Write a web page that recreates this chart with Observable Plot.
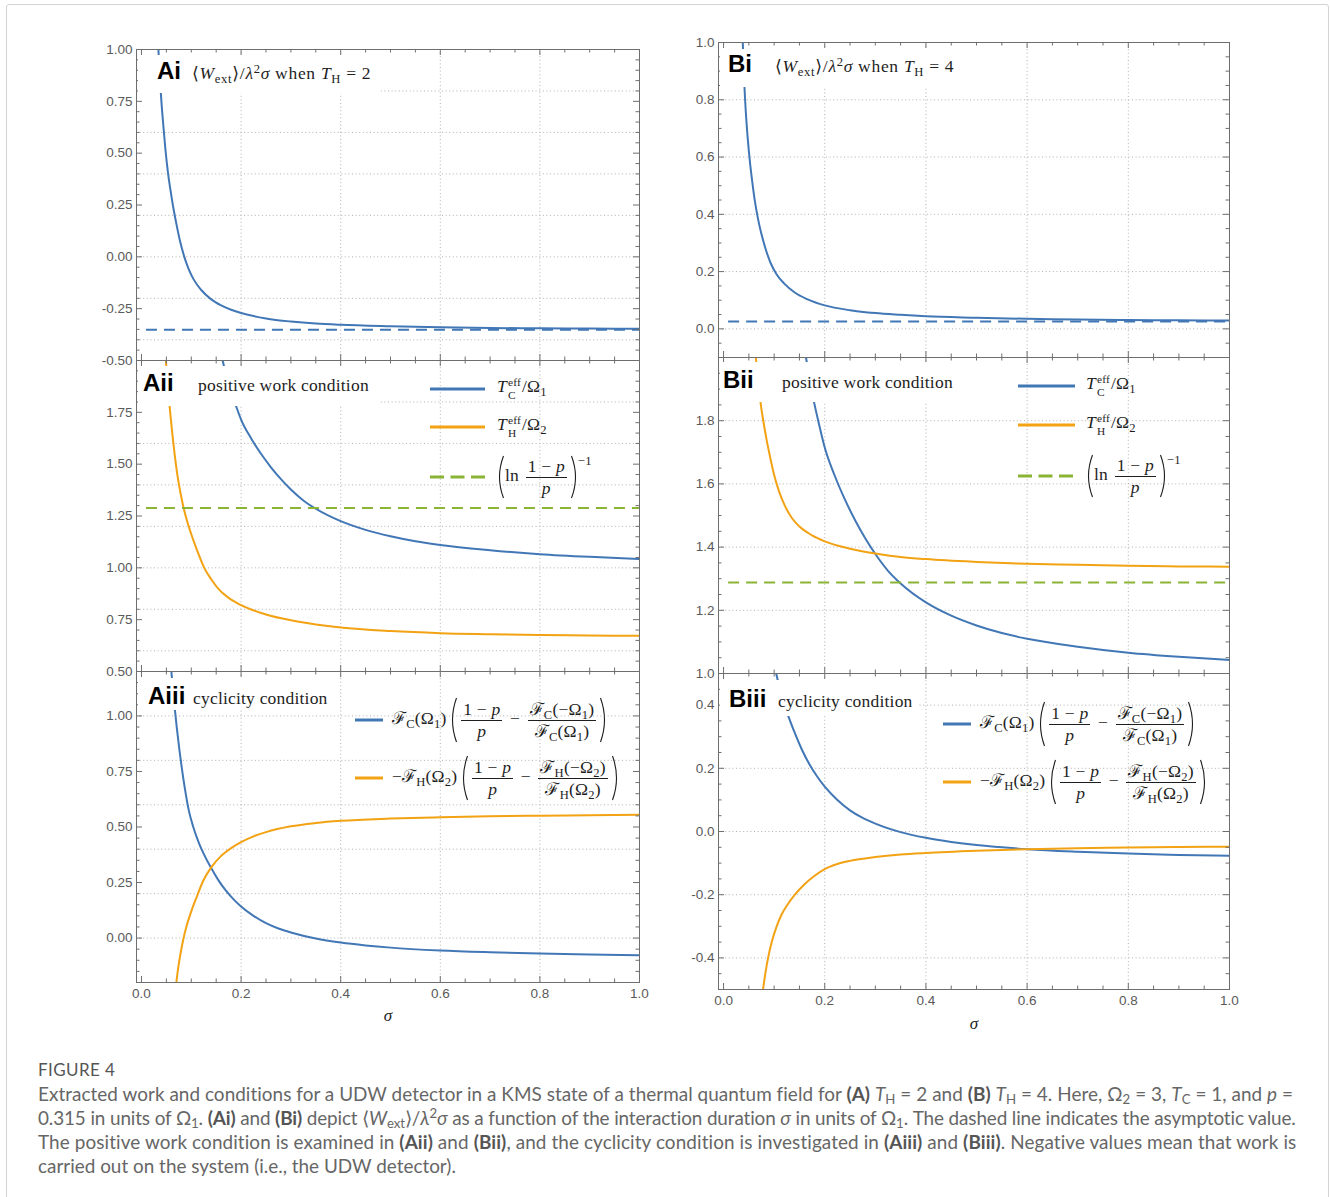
<!DOCTYPE html>
<html>
<head>
<meta charset="utf-8">
<script src="https://cdn.jsdelivr.net/npm/d3@7"></script>
<script src="https://cdn.jsdelivr.net/npm/@observablehq/plot@0.6"></script>
<style>
  html,body{margin:0;padding:0;background:#fff;}
  #fig{position:relative;width:1330px;height:1197px;overflow:hidden;background:#fff;}
  #border{position:absolute;left:6px;top:4px;width:1323px;height:1230px;border:1px solid #d4d4d4;border-radius:3px;box-sizing:border-box;}
  .m{font-family:"Liberation Serif","DejaVu Serif",serif;font-size:17.5px;letter-spacing:0.2px;color:#1e1e1e;white-space:nowrap;}
  .m sub{font-size:0.72em;vertical-align:-0.32em;line-height:0;}
  .m sup{font-size:0.72em;vertical-align:0.5em;line-height:0;}
  .ss{display:inline-flex;flex-direction:column;font-size:0.65em;line-height:1.15;vertical-align:0.57em;margin-left:1px;margin-right:1px;}
  .ss>span{display:block;height:1.15em;}
  .fr{display:inline-flex;flex-direction:column;align-items:center;vertical-align:middle;margin:0 3px;}
  .fr>span{display:block;line-height:1.15;padding:0 2px;text-align:center;}
  .fr>.n{border-bottom:1px solid #1e1e1e;}
  .bp{vertical-align:middle;display:inline-block;}
  .lblbox{position:absolute;background:#fff;}
  .lblrow{position:absolute;display:flex;align-items:baseline;height:28px;line-height:28px;white-space:nowrap;}
  .tag{display:inline-block;font-family:"Liberation Sans",Arial,sans-serif;font-weight:bold;font-size:24px;color:#000;}
  .leg{position:absolute;display:flex;align-items:center;transform:translateY(-50%);white-space:nowrap;}
  #cap{position:absolute;left:38px;top:1058px;font-family:Lato,"Open Sans",sans-serif;color:#666;}
  #cap .h{font-size:17px;line-height:24px;color:#555;letter-spacing:0.4px;}
  #cap .l{font-size:16px;line-height:24px;white-space:nowrap;}
  #cap b{font-weight:bold;color:#555;}
  #cap sub{font-size:0.7em;vertical-align:-0.25em;line-height:0;}
  #cap sup{font-size:0.7em;vertical-align:0.5em;line-height:0;}
</style>
</head>
<body>
<div id="fig"><div id="border"></div></div>
<script>
// ---------------- DATA ----------------
const sigmaRange = [0.01, 1];

// Ai: <W_ext>/λ²σ, T_H = 2
const wextTH2 = [[0.031,1.12],[0.034,1.0],[0.037,0.86],[0.040,0.75],[0.044,0.63],[0.048,0.52],[0.053,0.41],[0.058,0.325],[0.063,0.25],[0.07,0.16],[0.077,0.08],[0.086,0.0],[0.095,-0.06],[0.105,-0.11],[0.12,-0.16],[0.14,-0.205],[0.16,-0.234],[0.18,-0.255],[0.2,-0.271],[0.25,-0.297],[0.3,-0.312],[0.35,-0.322],[0.4,-0.328],[0.5,-0.335],[0.6,-0.34],[0.7,-0.343],[0.8,-0.345],[0.9,-0.346],[1.0,-0.347]];
const wextTH2Asym = -0.352;

// Bi: <W_ext>/λ²σ, T_H = 4
const wextTH4 = [[0.036,1.11],[0.038,1.0],[0.040,0.9],[0.042,0.82],[0.045,0.73],[0.048,0.66],[0.052,0.585],[0.057,0.51],[0.062,0.445],[0.068,0.385],[0.075,0.33],[0.083,0.28],[0.093,0.23],[0.105,0.19],[0.12,0.158],[0.14,0.128],[0.165,0.104],[0.2,0.082],[0.25,0.065],[0.3,0.055],[0.35,0.049],[0.4,0.044],[0.5,0.039],[0.6,0.035],[0.7,0.033],[0.8,0.031],[0.9,0.030],[1.0,0.029]];
const wextTH4Asym = 0.026;

// Aii / Bii: T_C^eff / Ω1 (same in both columns, T_C = 1)
const tcEff = [[0.158,2.06],[0.163,2.0],[0.17,1.93],[0.18,1.85],[0.19,1.78],[0.2,1.715],[0.22,1.625],[0.24,1.55],[0.26,1.485],[0.28,1.428],[0.3,1.378],[0.325,1.325],[0.35,1.285],[0.4,1.225],[0.45,1.183],[0.5,1.152],[0.55,1.128],[0.6,1.11],[0.7,1.085],[0.8,1.066],[0.9,1.053],[1.0,1.043]];
// Aii: T_H^eff / Ω2, T_H = 2
const thEffTH2 = [[0.047,2.07],[0.049,2.0],[0.052,1.905],[0.055,1.82],[0.058,1.74],[0.062,1.645],[0.0665,1.55],[0.072,1.45],[0.078,1.365],[0.084,1.295],[0.092,1.222],[0.1,1.162],[0.11,1.095],[0.126,1.0],[0.14,0.945],[0.154,0.9],[0.175,0.855],[0.2,0.82],[0.25,0.775],[0.3,0.747],[0.35,0.727],[0.4,0.712],[0.5,0.695],[0.6,0.685],[0.7,0.68],[0.8,0.676],[0.9,0.674],[1.0,0.672]];
// Bii: T_H^eff / Ω2, T_H = 4
const thEffTH4 = [[0.062,2.05],[0.064,2.0],[0.067,1.945],[0.071,1.885],[0.075,1.835],[0.079,1.795],[0.085,1.74],[0.092,1.685],[0.1,1.628],[0.11,1.575],[0.12,1.535],[0.135,1.492],[0.15,1.465],[0.175,1.437],[0.2,1.418],[0.25,1.395],[0.3,1.38],[0.35,1.369],[0.4,1.362],[0.5,1.353],[0.6,1.347],[0.7,1.344],[0.8,1.341],[0.9,1.339],[1.0,1.338]];
// (ln((1-p)/p))^-1, p = 0.315
const lnThreshold = 1.288;

// Aiii / Biii: cyclicity, cold term (same in both columns)
const cycC = [[0.058,1.25],[0.06,1.2],[0.063,1.125],[0.067,1.03],[0.071,0.945],[0.076,0.85],[0.081,0.765],[0.087,0.675],[0.095,0.575],[0.104,0.5],[0.115,0.43],[0.127,0.37],[0.14,0.315],[0.154,0.262],[0.17,0.212],[0.185,0.174],[0.2,0.142],[0.225,0.1],[0.25,0.067],[0.275,0.043],[0.3,0.025],[0.35,-0.002],[0.4,-0.02],[0.45,-0.033],[0.5,-0.043],[0.6,-0.056],[0.7,-0.064],[0.8,-0.07],[0.9,-0.074],[1.0,-0.077]];
// Aiii: cyclicity, hot term, T_H = 2
const cycHTH2 = [[0.068,-0.24],[0.07,-0.2],[0.074,-0.13],[0.078,-0.075],[0.084,-0.005],[0.09,0.05],[0.1,0.12],[0.11,0.18],[0.124,0.258],[0.14,0.318],[0.16,0.37],[0.18,0.405],[0.2,0.432],[0.225,0.458],[0.25,0.477],[0.3,0.503],[0.35,0.518],[0.4,0.528],[0.5,0.538],[0.6,0.544],[0.7,0.548],[0.8,0.551],[0.9,0.553],[1.0,0.555]];
// Biii: cyclicity, hot term, T_H = 4
const cycHTH4 = [[0.076,-0.525],[0.078,-0.5],[0.083,-0.445],[0.088,-0.4],[0.096,-0.345],[0.105,-0.3],[0.115,-0.262],[0.127,-0.23],[0.141,-0.2],[0.16,-0.167],[0.18,-0.14],[0.2,-0.119],[0.225,-0.103],[0.25,-0.093],[0.3,-0.081],[0.35,-0.073],[0.4,-0.068],[0.5,-0.061],[0.6,-0.056],[0.7,-0.053],[0.8,-0.051],[0.9,-0.049],[1.0,-0.048]];

// Ticks / grid
const xMajor = [0, 0.2, 0.4, 0.6, 0.8, 1.0];
const xGrid = [0.2, 0.4, 0.6, 0.8];
const yMajorAi = [-0.5, -0.25, 0, 0.25, 0.5, 0.75, 1.0];
const yGridAi = [-0.4, -0.2, 0, 0.2, 0.4, 0.6, 0.8];
const yMajorAii = [0.5, 0.75, 1.0, 1.25, 1.5, 1.75];
const yGridAii = [0.6, 0.8, 1.0, 1.2, 1.4, 1.6, 1.8];
const yMajorAiii = [0, 0.25, 0.5, 0.75, 1.0];
const yGridAiii = [0, 0.2, 0.4, 0.6, 0.8, 1.0];
const yMajorBi = [0, 0.2, 0.4, 0.6, 0.8, 1.0];
const yGridBi = [0, 0.2, 0.4, 0.6, 0.8];
const yMajorBii = [1.0, 1.2, 1.4, 1.6, 1.8];
const yGridBii = [1.2, 1.4, 1.6, 1.8];
const yMajorBiii = [-0.4, -0.2, 0, 0.2, 0.4];
const yGridBiii = [-0.4, -0.2, 0, 0.2, 0.4];

// ---------------- STYLE ----------------
const blue = "#4277b6", orange = "#f2a213", green = "#8ab434";
const gridColor = "#b0b0b0", frameColor = "#6e6e6e", labelColor = "#5a5a5a";

function minorTicks(lo, hi, majors) {
  const out = [];
  for (let k = Math.ceil(lo / 0.05 - 1e-9); k <= Math.floor(hi / 0.05 + 1e-9); k++) {
    const v = +(k * 0.05).toFixed(2);
    if (!majors.some(m => Math.abs(m - v) < 1e-9)) out.push(v);
  }
  return out;
}
const xMinor = minorTicks(0, 1, xMajor);

const fig = document.getElementById("fig");

function addPanel(p) {
  const ml = 50, mr = 10, mt = 10, mb = p.xAxis ? 55 : 10;
  const w = p.w, h = p.h, majL = 6, minL = 3.5;
  const yMinor = minorTicks(p.yDomain[0], p.yDomain[1], p.yMajor);
  const marks = [
    Plot.ruleX(xGrid, {x: d => d, stroke: gridColor, strokeDasharray: "1,2.6"}),
    Plot.ruleY(p.yGrid, {y: d => d, stroke: gridColor, strokeDasharray: "1,2.6"}),
    ...p.series.map(s => Plot.line(s.data, {x: d => d[0], y: d => d[1], stroke: s.color, strokeWidth: 2, curve: "monotone-x", clip: true})),
    ...p.dashed.map(dl => Plot.ruleY([dl.value], {y: d => d, x1: () => sigmaRange[0], x2: () => sigmaRange[1], stroke: dl.color, strokeWidth: 2, strokeDasharray: "11,7", clip: true})),
    Plot.frame({stroke: frameColor}),
    Plot.tickY(p.yMajor, {y: d => d, insetRight: w - majL, stroke: frameColor}),
    Plot.tickY(p.yMajor, {y: d => d, insetLeft: w - majL, stroke: frameColor}),
    Plot.tickY(yMinor, {y: d => d, insetRight: w - minL, stroke: frameColor}),
    Plot.tickY(yMinor, {y: d => d, insetLeft: w - minL, stroke: frameColor}),
    Plot.tickX(xMajor, {x: d => d, insetTop: h - majL, stroke: frameColor}),
    Plot.tickX(xMajor, {x: d => d, insetBottom: h - majL, stroke: frameColor}),
    Plot.tickX(xMinor, {x: d => d, insetTop: h - minL, stroke: frameColor}),
    Plot.tickX(xMinor, {x: d => d, insetBottom: h - minL, stroke: frameColor}),
    Plot.axisY(p.yMajor, {tickSize: 0, tickPadding: 4, tickFormat: d => d.toFixed(p.digits), fontSize: 13.5, color: labelColor, label: null})
  ];
  if (p.xAxis) {
    marks.push(Plot.axisX(xMajor, {tickSize: 0, tickPadding: 6, tickFormat: d => d.toFixed(1), fontSize: 13.5, color: labelColor, label: null}));
    marks.push(Plot.text(["σ"], {text: d => d, frameAnchor: "bottom", dy: p.sigmaDy, fontSize: 17, fontStyle: "italic", fontFamily: "Liberation Serif, serif", fill: "#222"}));
  }
  const svg = Plot.plot({
    width: ml + w + mr, height: mt + h + mb,
    marginLeft: ml, marginRight: mr, marginTop: mt, marginBottom: mb,
    x: {domain: [-0.01, 1], axis: null},
    y: {domain: p.yDomain, axis: null},
    style: {background: "transparent", overflow: "visible", fontFamily: '"Liberation Sans", Arial, sans-serif'},
    marks
  });
  const wrap = document.createElement("div");
  wrap.style.cssText = `position:absolute;left:${p.left - ml}px;top:${p.top - mt}px;width:${ml + w + mr}px;height:${mt + h + mb}px;`;
  wrap.appendChild(svg);
  fig.appendChild(wrap);
}

const L = {left: 136, w: 503}, R = {left: 718, w: 511};
const panels = [
  {...L, top: 49, h: 311, yDomain: [-0.5, 1.0], yMajor: yMajorAi, yGrid: yGridAi, digits: 2,
   series: [{data: wextTH2, color: blue}], dashed: [{value: wextTH2Asym, color: blue}]},
  {...L, top: 360, h: 311, yDomain: [0.5, 2.0], yMajor: yMajorAii, yGrid: yGridAii, digits: 2,
   series: [{data: tcEff, color: blue}, {data: thEffTH2, color: orange}], dashed: [{value: lnThreshold, color: green}]},
  {...L, top: 671, h: 311, yDomain: [-0.2, 1.2], yMajor: yMajorAiii, yGrid: yGridAiii, digits: 2, xAxis: true, sigmaDy: 38,
   series: [{data: cycC, color: blue}, {data: cycHTH2, color: orange}], dashed: []},
  {...R, top: 42, h: 315, yDomain: [-0.1, 1.0], yMajor: yMajorBi, yGrid: yGridBi, digits: 1,
   series: [{data: wextTH4, color: blue}], dashed: [{value: wextTH4Asym, color: blue}]},
  {...R, top: 357, h: 316, yDomain: [1.0, 2.0], yMajor: yMajorBii, yGrid: yGridBii, digits: 1,
   series: [{data: tcEff, color: blue}, {data: thEffTH4, color: orange}], dashed: [{value: lnThreshold, color: green}]},
  {...R, top: 673, h: 316, yDomain: [-0.5, 0.5], yMajor: yMajorBiii, yGrid: yGridBiii, digits: 1, xAxis: true, sigmaDy: 39,
   series: [{data: cycC, color: blue}, {data: cycHTH4, color: orange}], dashed: []}
];
panels.forEach(addPanel);

// ---------------- MATH TEXT HELPERS ----------------
const I = s => `<i>${s}</i>`;
const frac = (n, d) => `<span class="fr"><span class="n">${n}</span><span class="d">${d}</span></span>`;
const LP = (h = 46) => `<svg class="bp" width="8" height="${h}" viewBox="0 0 8 ${h}"><path d="M6.5,1 Q-1.5,${h / 2} 6.5,${h - 1}" fill="none" stroke="#1e1e1e" stroke-width="1.1"/></svg>`;
const RP = (h = 46) => `<svg class="bp" width="8" height="${h}" viewBox="0 0 8 ${h}"><path d="M1.5,1 Q9.5,${h / 2} 1.5,${h - 1}" fill="none" stroke="#1e1e1e" stroke-width="1.1"/></svg>`;
const F = "ℱ";
const wextHtml = t => `⟨${I("W")}<sub>ext</sub>⟩/${I("λ")}<sup>2</sup>${I("σ")} when ${I("T")}<sub>H</sub> = ${t}`;
const tcHtml = `${I("T")}<span class="ss"><span>eff</span><span>C</span></span>/Ω<sub>1</sub>`;
const thHtml = `${I("T")}<span class="ss"><span>eff</span><span>H</span></span>/Ω<sub>2</sub>`;
const lnHtml = `${LP(44)}ln&thinsp;${frac(`1 − ${I("p")}`, I("p"))}${RP(44)}<sup style="vertical-align:1.3em">−1</sup>`;
const fcHtml = `${F}<sub>C</sub>(Ω<sub>1</sub>)&thinsp;${LP()}${frac(`1 − ${I("p")}`, I("p"))} − ${frac(`${F}<sub>C</sub>(−Ω<sub>1</sub>)`, `${F}<sub>C</sub>(Ω<sub>1</sub>)`)}${RP()}`;
const fhHtml = `−${F}<sub>H</sub>(Ω<sub>2</sub>)&thinsp;${LP()}${frac(`1 − ${I("p")}`, I("p"))} − ${frac(`${F}<sub>H</sub>(−Ω<sub>2</sub>)`, `${F}<sub>H</sub>(Ω<sub>2</sub>)`)}${RP()}`;

// ---------------- PANEL LABELS (white boxes on top of curves) ----------------
const labels = [
  {tag: "Ai", x: 157, tx: 192, cy: 71, box: [138, 55, 381, 93], html: wextHtml(2), ls: 0.7},
  {tag: "Bi", x: 728, tx: 775, cy: 64, box: [720, 49, 962, 87], html: wextHtml(4), ls: 0.7},
  {tag: "Aii", x: 143, tx: 198, cy: 383, box: [138, 366, 379, 406], html: "positive work condition"},
  {tag: "Bii", x: 723, tx: 782, cy: 380, box: [720, 362, 962, 402], html: "positive work condition"},
  {tag: "Aiii", x: 148, tx: 193, cy: 696, box: [138, 678, 333, 710], html: "cyclicity condition"},
  {tag: "Biii", x: 729, tx: 778, cy: 699, box: [720, 680, 918, 716], html: "cyclicity condition"}
];
labels.forEach(l => {
  const box = document.createElement("div");
  box.className = "lblbox";
  box.style.cssText = `left:${l.box[0]}px;top:${l.box[1]}px;width:${l.box[2] - l.box[0]}px;height:${l.box[3] - l.box[1]}px;`;
  fig.appendChild(box);
  const row = document.createElement("div");
  row.className = "lblrow";
  row.style.left = l.x + "px";
  row.style.top = (l.cy - 14) + "px";
  const ls = l.ls != null ? `style="letter-spacing:${l.ls}px"` : "";
  row.innerHTML = `<span class="tag" style="width:${l.tx - l.x}px">${l.tag}</span><span class="m" ${ls}>${l.html}</span>`;
  fig.appendChild(row);
});

// ---------------- LEGENDS ----------------
const legends = [
  {x: 430, sw: 55, gap: 12, items: [{y: 389, color: blue, html: tcHtml}, {y: 427, color: orange, html: thHtml}, {y: 477, color: green, dashed: true, html: lnHtml}]},
  {x: 1018, sw: 57, gap: 11, items: [{y: 386, color: blue, html: tcHtml}, {y: 425, color: orange, html: thHtml}, {y: 476, color: green, dashed: true, html: lnHtml}]},
  {x: 355, sw: 28, gap: 9, items: [{y: 720, color: blue, html: fcHtml}, {y: 778, color: orange, html: fhHtml}]},
  {x: 943, sw: 28, gap: 9, items: [{y: 724, color: blue, html: fcHtml}, {y: 782, color: orange, html: fhHtml}]}
];
legends.forEach(lg => lg.items.forEach(it => {
  const row = document.createElement("div");
  row.className = "leg";
  row.style.left = lg.x + "px";
  row.style.top = it.y + "px";
  const dash = it.dashed ? `stroke-dasharray="14,6.5"` : "";
  row.innerHTML = `<svg width="${lg.sw}" height="4" style="margin-right:${lg.gap}px;display:block"><line x1="0" y1="2" x2="${lg.sw}" y2="2" stroke="${it.color}" stroke-width="3" ${dash}/></svg><span class="m">${it.html}</span>`;
  fig.appendChild(row);
}));

// ---------------- CAPTION ----------------
const captionTitle = "FIGURE 4";
const captionLines = [
  `Extracted work and conditions for a UDW detector in a KMS state of a thermal quantum field for <b>(A)</b> <i>T</i><sub>H</sub> = 2 and <b>(B)</b> <i>T</i><sub>H</sub> = 4. Here, Ω<sub>2</sub> = 3, <i>T</i><sub>C</sub> = 1, and <i>p</i> =`,
  `0.315 in units of Ω<sub>1</sub>. <b>(Ai)</b> and <b>(Bi)</b> depict ⟨<i>W</i><sub>ext</sub>⟩/<i>λ</i><sup>2</sup><i>σ</i> as a function of the interaction duration <i>σ</i> in units of Ω<sub>1</sub>. The dashed line indicates the asymptotic value.`,
  `The positive work condition is examined in <b>(Aii)</b> and <b>(Bii)</b>, and the cyclicity condition is investigated in <b>(Aiii)</b> and <b>(Biii)</b>. Negative values mean that work is`,
  `carried out on the system (i.e., the UDW detector).`
];
const lineTargets = [1255, 1259, 1260, null];
const cap = document.createElement("div");
cap.id = "cap";
cap.innerHTML = `<div class="h">${captionTitle}</div>` + captionLines.map(s => `<div class="l"><span>${s}</span></div>`).join("");
fig.appendChild(cap);
const lineDivs = [...cap.querySelectorAll(".l")];
const spans = [...cap.querySelectorAll(".l > span")];
// choose one font size that makes the full lines about as wide as in the reference
let ratio = 0, nr = 0;
spans.forEach((sp, i) => { if (lineTargets[i] != null) { ratio += lineTargets[i] / sp.getBoundingClientRect().width; nr++; } });
const fs = Math.max(14, Math.min(19, 16 * ratio / nr));
lineDivs.forEach(d => d.style.fontSize = fs + "px");
spans.forEach((sp, i) => {
  if (lineTargets[i] == null) return;
  const wNat = sp.getBoundingClientRect().width;
  const ls = Math.max(-0.6, Math.min(0.6, (lineTargets[i] - wNat) / sp.textContent.length));
  sp.style.letterSpacing = ls + "px";
});
</script>
</body>
</html>
